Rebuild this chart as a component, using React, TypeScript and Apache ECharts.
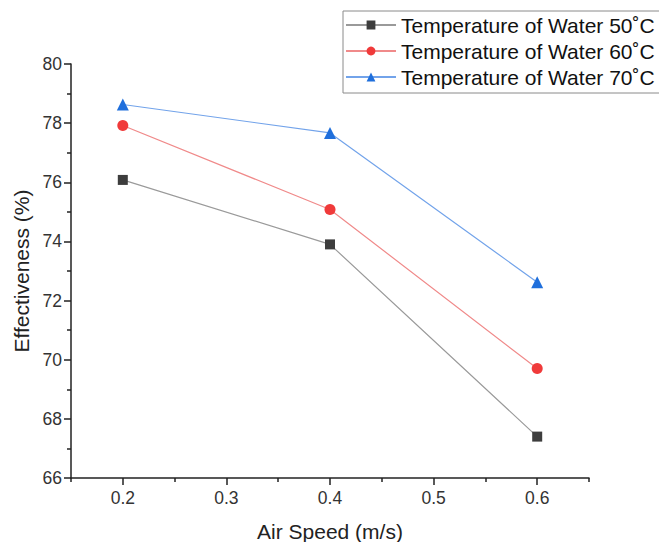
import React, { useEffect, useRef } from "react";
import * as echarts from "echarts";

const airSpeed = [0.2, 0.4, 0.6];
const water50 = [76.08, 73.9, 67.4];
const water60 = [77.92, 75.08, 69.7];
const water70 = [78.63, 77.67, 72.62];
const seriesNames = [
  "Temperature of Water 50˚C",
  "Temperature of Water 60˚C",
  "Temperature of Water 70˚C",
];
const xMajor = [0.2, 0.3, 0.4, 0.5, 0.6];
const xMinor = [0.15, 0.25, 0.35, 0.45, 0.55, 0.65];

export default function App() {
  const ref = useRef<HTMLDivElement>(null);
  useEffect(() => {
    if (!ref.current) return;
    const chart = echarts.init(ref.current, null, { renderer: "svg" });
    const font = "Arial, 'Liberation Sans', sans-serif";
    const mk = (name: string, vals: number[], symbol: string, col: string, lineCol: string, size: number) => ({
      name,
      type: "line",
      xAxisIndex: 0,
      data: airSpeed.map((x, i) => [x, vals[i]]),
      symbol,
      symbolSize: size,
      itemStyle: { color: col },
      lineStyle: { color: lineCol, width: 1.2 },
      z: 3,
    });
    chart.setOption({
      animation: false,
      backgroundColor: "#fff",
      textStyle: { fontFamily: font },
      grid: { left: 71, top: 64, right: 70, bottom: 64, containLabel: false, outerBoundsMode: "none" },
      legend: {
        left: 343,
        top: 11,
        orient: "vertical",
        itemWidth: 50,
        itemHeight: 11,
        itemGap: 4,
        padding: [3, 24, 5, 2],
        borderColor: "#8a8a8a",
        borderWidth: 1,
        textStyle: { fontSize: 21, lineHeight: 22, color: "#111", fontFamily: font },
        data: seriesNames,
      },
      xAxis: [
        {
          type: "value",
          min: 0.15,
          max: 0.65,
          name: "Air Speed (m/s)",
          nameLocation: "middle",
          nameGap: 43,
          nameTextStyle: { fontSize: 21, color: "#222" },
          axisLine: { show: true, lineStyle: { color: "#222", width: 1.5 } },
          axisTick: { show: true, customValues: xMajor, length: 7, lineStyle: { color: "#222", width: 1.5 } },
          axisLabel: {
            customValues: xMajor,
            fontSize: 17.5,
            color: "#333",
            margin: 11,
            formatter: (v: number) => v.toFixed(1),
          },
          splitLine: { show: false },
        },
        {
          type: "value",
          position: "bottom",
          min: 0.15,
          max: 0.65,
          axisLine: { show: false },
          axisTick: { show: true, customValues: xMinor, length: 4, lineStyle: { color: "#222", width: 1.5 } },
          axisLabel: { show: false },
          splitLine: { show: false },
        },
      ],
      yAxis: {
        type: "value",
        min: 66,
        max: 80,
        interval: 2,
        name: "Effectiveness (%)",
        nameLocation: "middle",
        nameGap: 38,
        nameTextStyle: { fontSize: 21, color: "#222" },
        axisLine: { show: true, lineStyle: { color: "#222", width: 1.5 } },
        axisTick: { show: true, length: 7, lineStyle: { color: "#222", width: 1.5 } },
        minorTick: { show: true, splitNumber: 2, length: 4, lineStyle: { color: "#222", width: 1.5 } },
        axisLabel: { fontSize: 17.5, color: "#333", margin: 9 },
        splitLine: { show: false },
        minorSplitLine: { show: false },
      },
      series: [
        mk(seriesNames[0], water50, "rect", "#3d3d3d", "#9a9a9a", 10),
        mk(seriesNames[1], water60, "circle", "#f03a3a", "#f08a8a", 11),
        mk(seriesNames[2], water70, "triangle", "#1f6fdc", "#72a3ea", 12),
      ],
    });
    return () => chart.dispose();
  }, []);
  return <div ref={ref} style={{ width: 659, height: 542, position: "absolute", left: 0, top: 0 }} />;
}
